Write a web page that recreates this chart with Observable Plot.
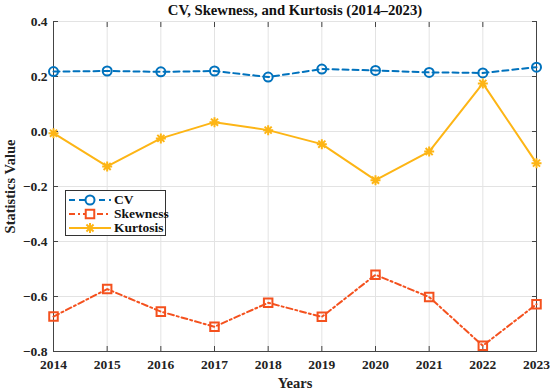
<!DOCTYPE html>
<html>
<head>
<meta charset="utf-8">
<script src="https://cdn.jsdelivr.net/npm/d3@7"></script>
<script src="https://cdn.jsdelivr.net/npm/@observablehq/plot@0.6"></script>
<style>
  body { margin: 0; background: #fff; }
  #wrap { position: relative; width: 550px; height: 391px; font-family: "Liberation Serif", "Times New Roman", serif; }
  #legend { position: absolute; left: 65px; top: 190px; width: 101px; height: 46px; border: 1px solid #333; background: #fff; box-sizing: border-box; }
  #legend .row { position: absolute; left: 0; height: 14px; display: flex; align-items: center; }
  #legend .row span { font-weight: bold; font-size: 13.5px; color: #111; margin-left: 2px; font-family: "Liberation Serif", serif; }
</style>
</head>
<body>
<div id="wrap"></div>
<script>
const years = [2014, 2015, 2016, 2017, 2018, 2019, 2020, 2021, 2022, 2023];
const cv = [0.218, 0.220, 0.217, 0.220, 0.198, 0.227, 0.222, 0.215, 0.213, 0.234];
const skewness = [-0.673, -0.573, -0.655, -0.710, -0.623, -0.674, -0.521, -0.602, -0.779, -0.628];
const kurtosis = [-0.006, -0.127, -0.025, 0.034, 0.005, -0.046, -0.177, -0.073, 0.175, -0.115];
const yTicks = [-0.8, -0.6, -0.4, -0.2, 0, 0.2, 0.4];
const seriesNames = ["CV", "Skewness", "Kurtosis"];
const colors = ["#0072BD", "#F4511E", "#FDB515"];
const titleText = "CV, Skewness, and Kurtosis (2014\u20132023)";

const series = [
  {name: seriesNames[0], values: cv, color: colors[0], dash: "6,4", symbol: "circle", r: 4.5},
  {name: seriesNames[1], values: skewness, color: colors[1], dash: "6,3,2,3", symbol: "square", r: 4.8},
  {name: seriesNames[2], values: kurtosis, color: colors[2], dash: null, symbol: "asterisk8", r: 5}
];

const asterisk8 = {
  draw(ctx, size) {
    const r = Math.sqrt(size / Math.PI);
    const d = r * Math.SQRT1_2;
    ctx.moveTo(-r, 0); ctx.lineTo(r, 0);
    ctx.moveTo(0, -r); ctx.lineTo(0, r);
    ctx.moveTo(-d, -d); ctx.lineTo(d, d);
    ctx.moveTo(-d, d); ctx.lineTo(d, -d);
  }
};

const rows = series.map(s => years.map((y, i) => ({year: y, value: s.values[i], name: s.name})));

const font = "'Liberation Serif', 'Times New Roman', serif";
const marks = [
  Plot.gridX(years, {stroke: "#e3e3e3", strokeOpacity: 1}),
  Plot.gridY(yTicks, {stroke: "#e3e3e3", strokeOpacity: 1}),
  Plot.axisX(years, {anchor: "bottom", tickSize: 0, tickPadding: 8, label: null, tickFormat: d => String(d), fontWeight: "bold", fontSize: 13.5, fill: "#222", fontFamily: font}),
  Plot.axisY(yTicks, {anchor: "left", tickSize: 0, tickPadding: 6, label: null, fontWeight: "bold", fontSize: 13.5, fill: "#222", fontFamily: font}),
  Plot.text(["Years"], {frameAnchor: "bottom", dy: 32, lineAnchor: "middle", textAnchor: "middle", fontWeight: "bold", fontSize: 14.5, fill: "#222", fontFamily: font}),
  Plot.text(["Statistics Value"], {frameAnchor: "left", dx: -43, rotate: -90, lineAnchor: "middle", textAnchor: "middle", fontWeight: "bold", fontSize: 14.5, fill: "#222", fontFamily: font}),
  // inward ticks
  Plot.axisX(years, {anchor: "bottom", tickSize: 5, dy: -5, tickFormat: () => "", label: null, stroke: "#444"}),
  Plot.axisX(years, {anchor: "top", tickSize: 5, dy: 5, tickFormat: () => "", label: null, stroke: "#444"}),
  Plot.axisY(yTicks, {anchor: "left", tickSize: 5, dx: 5, tickFormat: () => "", label: null, stroke: "#444"}),
  Plot.axisY(yTicks, {anchor: "right", tickSize: 5, dx: -5, tickFormat: () => "", label: null, stroke: "#444"}),
  Plot.frame({anchor: "left", stroke: "#444"}),
  Plot.frame({anchor: "bottom", stroke: "#444"}),
  Plot.frame({anchor: "right", stroke: "#444"}),
  Plot.text([titleText], {frameAnchor: "top", dy: -11, lineAnchor: "middle", fontWeight: "bold", fontSize: 14.7, fill: "#111", fontFamily: font})
];

series.forEach((s, k) => {
  marks.push(Plot.line(rows[k], {x: "year", y: "value", stroke: s.color, strokeWidth: 2, strokeDasharray: s.dash}));
  marks.push(Plot.dot(rows[k], {x: "year", y: "value", stroke: s.color, strokeWidth: 2, fill: "none", symbol: s.symbol === "asterisk8" ? asterisk8 : s.symbol, r: s.r}));
});

const chart = Plot.plot({
  width: 550,
  height: 391,
  marginLeft: 53,
  marginRight: 14,
  marginTop: 21,
  marginBottom: 40,
  style: {fontFamily: font, background: "#fff"},
  x: {domain: [2014, 2023]},
  y: {domain: [-0.8, 0.4]},
  marks
});

const wrap = document.getElementById("wrap");
wrap.appendChild(chart);

// legend
const legend = document.createElement("div");
legend.id = "legend";
const symbolsMap = {circle: d3.symbolCircle, square: d3.symbolSquare, asterisk8};
series.forEach((s, k) => {
  const row = document.createElement("div");
  row.className = "row";
  row.style.top = (2 + k * 14) + "px";
  const svg = d3.create("svg").attr("width", 46).attr("height", 14);
  svg.append("line").attr("x1", 3).attr("x2", 45).attr("y1", 7).attr("y2", 7)
    .attr("stroke", s.color).attr("stroke-width", 2).attr("stroke-dasharray", s.dash);
  const sym = d3.symbol(symbolsMap[s.symbol], Math.PI * s.r * s.r);
  svg.append("path").attr("d", sym()).attr("transform", "translate(24,7)")
    .attr("fill", "white").attr("stroke", s.color).attr("stroke-width", 2);
  row.appendChild(svg.node());
  const t = document.createElement("span");
  t.textContent = s.name;
  row.appendChild(t);
  legend.appendChild(row);
});
wrap.appendChild(legend);
</script>
</body>
</html>
